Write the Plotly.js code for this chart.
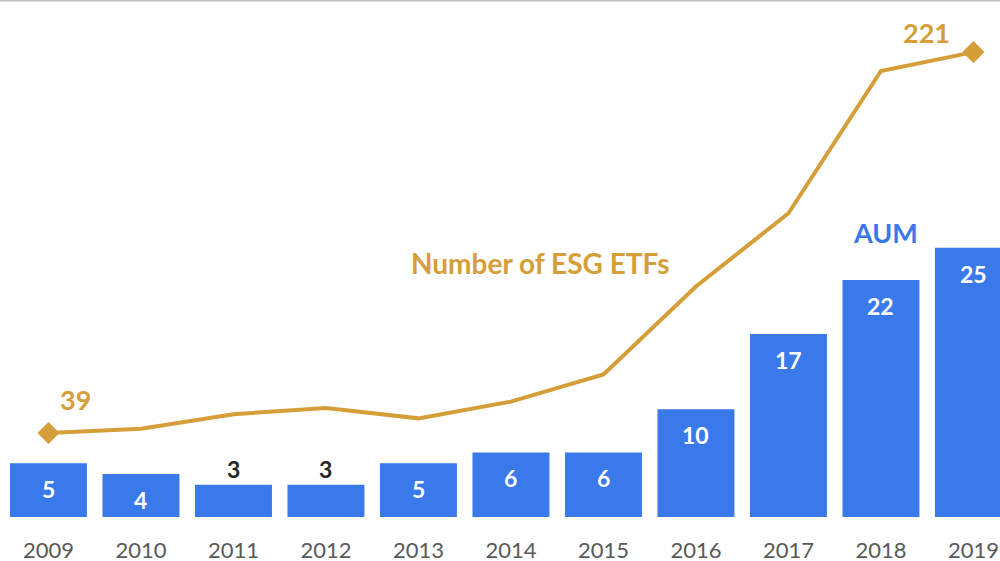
<!DOCTYPE html>
<html>
<head>
<meta charset="utf-8">
<script src="https://cdn.plot.ly/plotly-3.0.1.min.js"></script>
<style>
  html, body { margin: 0; padding: 0; background: #ffffff; }
  #chart { width: 1000px; height: 561px; }
</style>
</head>
<body>
<div id="chart"></div>
<script>
// ---- data ----
const years = [2009, 2010, 2011, 2012, 2013, 2014, 2015, 2016, 2017, 2018, 2019];
const aum = [5, 4, 3, 3, 5, 6, 6, 10, 17, 22, 25];
const etfCount = [39, 41, 48, 51, 46, 54, 67, 109, 144, 212, 221];
const lineLabel = "Number of ESG ETFs";
const barLabel = "AUM";

// ---- styles ----
const BLUE = "#3979e9";
const GOLD = "#d69e38";
const FONT = "Lato, 'Open Sans', sans-serif";
const last = years.length - 1;

const barTrace = {
  type: "bar",
  x: years,
  y: aum,
  marker: { color: BLUE, line: { width: 0 } },
  hoverinfo: "skip",
  yaxis: "y"
};

const lineTrace = {
  type: "scatter",
  mode: "lines",
  x: years,
  y: etfCount,
  yaxis: "y2",
  line: { color: GOLD, width: 4 },
  hoverinfo: "skip"
};

// end-point diamonds (first and last values of the same series)
const endIdx = [0, last];
const endTrace = {
  type: "scatter",
  mode: "markers",
  x: endIdx.map(i => years[i]),
  y: endIdx.map(i => etfCount[i]),
  yaxis: "y2",
  marker: { symbol: "diamond", color: GOLD, size: 17, opacity: 1, line: { width: 0 } },
  hoverinfo: "skip"
};

const annotations = [];
// bar value labels
aum.forEach((v, i) => {
  const outside = v <= 3;
  annotations.push({
    x: years[i], y: v, xref: "x", yref: "y",
    text: String(v), showarrow: false,
    yanchor: "middle",
    yshift: outside ? 16 : -26,
    font: { family: FONT, size: 23, color: outside ? "#262626" : "#ffffff", weight: 700 }
  });
});
// line end labels
annotations.push({
  x: years[0], y: etfCount[0], xref: "x", yref: "y2",
  text: String(etfCount[0]), showarrow: false, yanchor: "middle",
  xshift: 27, yshift: 34,
  font: { family: FONT, size: 27, color: GOLD, weight: 700 }
});
annotations.push({
  x: years[last], y: etfCount[last], xref: "x", yref: "y2",
  text: String(etfCount[last]), showarrow: false, yanchor: "middle",
  xshift: -47, yshift: 20,
  font: { family: FONT, size: 27, color: GOLD, weight: 700 }
});
// series names
annotations.push({
  x: 540 / 1000, y: (517 - 263) / 517, xref: "paper", yref: "paper",
  text: lineLabel, showarrow: false, xanchor: "center", yanchor: "middle",
  font: { family: FONT, size: 28, color: GOLD, weight: 700 }
});
annotations.push({
  x: 885 / 1000, y: (517 - 232) / 517, xref: "paper", yref: "paper",
  text: barLabel, showarrow: false, xanchor: "center", yanchor: "middle",
  font: { family: FONT, size: 27, color: BLUE, weight: 700 }
});

const layout = {
  width: 1000,
  height: 561,
  margin: { l: 0, r: 0, t: 0, b: 44, pad: 0 },
  paper_bgcolor: "#ffffff",
  plot_bgcolor: "#ffffff",
  showlegend: false,
  bargap: 0.168,
  xaxis: {
    type: "linear",
    range: [2008.476, 2019.287],
    tickmode: "array",
    tickvals: years,
    ticktext: years.map(String),
    showgrid: false, zeroline: false, showline: false,
    ticks: "",
    ticklabelstandoff: 18,
    tickfont: { family: FONT, size: 22, color: "#595959" },
    fixedrange: true
  },
  yaxis: {
    range: [0, 48.0],
    visible: false,
    showgrid: false, zeroline: false,
    fixedrange: true
  },
  yaxis2: {
    range: [-1.13, 245.9],
    overlaying: "y",
    visible: false,
    showgrid: false, zeroline: false,
    fixedrange: true
  },
  shapes: [{
    type: "line", xref: "paper", yref: "paper",
    x0: 0, x1: 1, y0: 1, y1: 1,
    line: { color: "#bfbfbf", width: 3 }
  }],
  annotations: annotations
};

Plotly.newPlot("chart", [barTrace, lineTrace, endTrace], layout, { displayModeBar: false, staticPlot: true });
</script>
</body>
</html>
